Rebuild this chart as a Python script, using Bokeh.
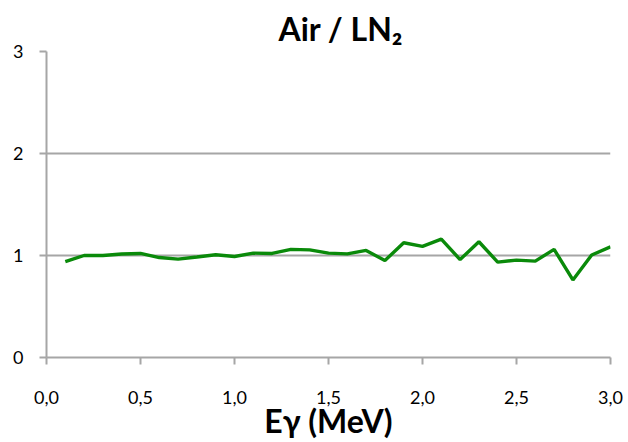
from bokeh.plotting import figure
from bokeh.models import Range1d, FixedTicker
from bokeh.embed import file_html
from bokeh.resources import INLINE

# Data
energy = [0.1, 0.2, 0.3, 0.4, 0.5, 0.6, 0.7, 0.8, 0.9, 1.0,
          1.1, 1.2, 1.3, 1.4, 1.5, 1.6, 1.7, 1.8, 1.9, 2.0,
          2.1, 2.2, 2.3, 2.4, 2.5, 2.6, 2.7, 2.8, 2.9, 3.0]
ratio = [0.94, 1.00, 1.00, 1.015, 1.02, 0.98, 0.965, 0.985, 1.007, 0.99,
         1.023, 1.02, 1.06, 1.055, 1.023, 1.016, 1.05, 0.95, 1.125, 1.09,
         1.16, 0.96, 1.135, 0.935, 0.955, 0.945, 1.06, 0.76, 1.005, 1.085]
x_ticks = [0.0, 0.5, 1.0, 1.5, 2.0, 2.5, 3.0]
x_tick_labels = ["0,0", "0,5", "1,0", "1,5", "2,0", "2,5", "3,0"]
y_ticks = [0, 1, 2, 3]
title_text = "Air / LN₂"
x_label = "Eγ (MeV)"

FONT = "Lato"
GRAY = "#a6a6a6"

p = figure(width=628, height=442, output_backend="svg", toolbar_location=None,
           x_range=Range1d(0, 3), y_range=Range1d(0, 3),
           min_border_left=46, min_border_right=18, min_border_top=51,
           min_border_bottom=85)
p.outline_line_color = None
p.background_fill_color = "white"
p.border_fill_color = "white"

p.line(energy, ratio, line_color="#0a8a0a", line_width=3.4)

# Axes
p.xaxis.ticker = FixedTicker(ticks=x_ticks)
p.xaxis.major_label_overrides = dict(zip(x_ticks, x_tick_labels))
p.yaxis.ticker = FixedTicker(ticks=y_ticks)
for ax in (p.xaxis, p.yaxis):
    ax.axis_line_color = GRAY
    ax.axis_line_width = 2
    ax.major_tick_line_color = GRAY
    ax.major_tick_line_width = 2
    ax.major_tick_out = 7
    ax.major_tick_in = 0
    ax.minor_tick_line_color = None
    ax.major_label_text_font = FONT
    ax.major_label_text_font_size = "18px"
    ax.major_label_text_color = "black"
p.yaxis.major_label_standoff = 16
p.xaxis.major_label_standoff = 26
p.xaxis.axis_label = x_label
p.xaxis.axis_label_text_font = FONT
p.xaxis.axis_label_text_font_style = "bold"
p.xaxis.axis_label_text_font_size = "32px"
p.xaxis.axis_label_text_color = "black"
p.xaxis.axis_label_standoff = -6

p.xgrid.grid_line_color = None
p.ygrid.grid_line_color = GRAY
p.ygrid.grid_line_width = 2

# Title
p.title.text = title_text
p.title.align = "left"
p.title.offset = 232
p.title.standoff = 7
p.title.text_font = FONT
p.title.text_font_style = "bold"
p.title.text_font_size = "32px"
p.title.text_color = "black"

open("out.html", "w").write(file_html(p, INLINE))
